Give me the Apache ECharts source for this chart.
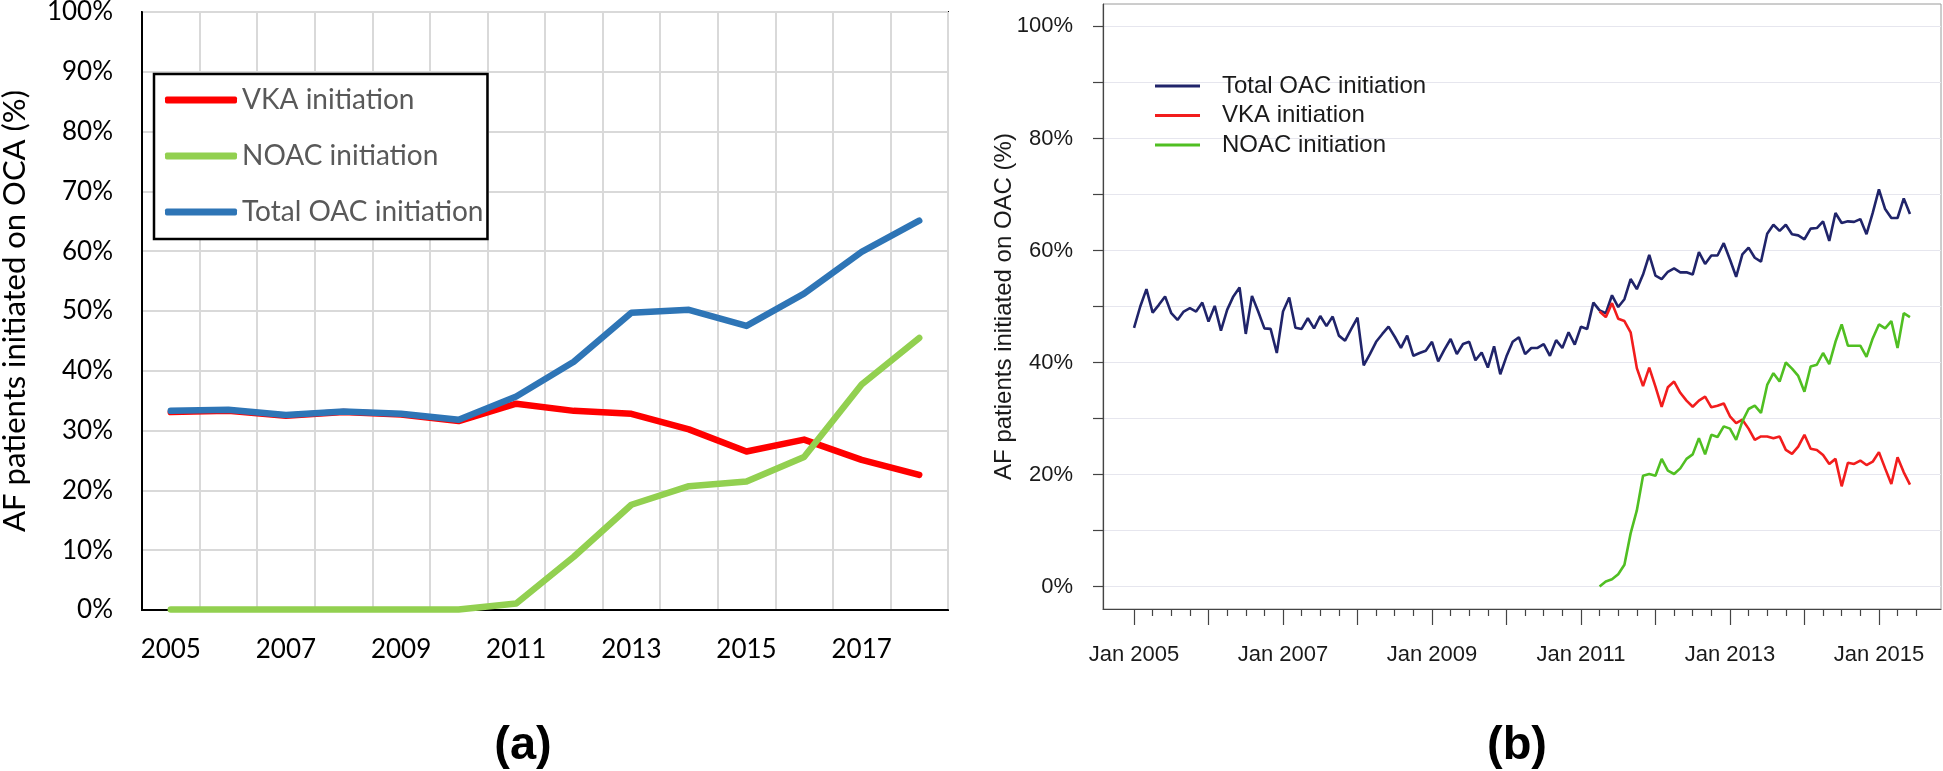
<!DOCTYPE html>
<html><head><meta charset="utf-8">
<script src="https://cdn.jsdelivr.net/npm/echarts@6/dist/echarts.min.js"></script>
<style>
html,body{margin:0;padding:0;background:#fff;}
#wrap{position:relative;width:1943px;height:771px;overflow:hidden;}
#a{position:absolute;left:0;top:0;width:960px;height:771px;}
#b{position:absolute;left:960px;top:0;width:983px;height:771px;}
</style>
</head><body><div id="wrap"><div id="a"></div><div id="b"></div></div>
<script>
// ---------- Panel (a): yearly ----------
const yearsA = ['2005','2006','2007','2008','2009','2010','2011','2012','2013','2014','2015','2016','2017','2018'];
const vkaA   = [33.1, 33.3, 32.5, 33.1, 32.7, 31.6, 34.5, 33.3, 32.8, 30.2, 26.5, 28.5, 25.1, 22.6];
const noacA  = [0.1, 0.1, 0.1, 0.1, 0.1, 0.1, 1.1, 8.9, 17.6, 20.7, 21.5, 25.6, 37.7, 45.5];
const totalA = [33.3, 33.5, 32.6, 33.2, 32.8, 31.8, 35.7, 41.5, 49.7, 50.2, 47.5, 52.9, 59.9, 65.1];

// ---------- Panel (b): monthly, month 0 = Jan 2005 ----------
const startYearB = 2005;
const totalB = [
 46.2, 50.0, 53.1, 48.9, 50.3, 51.8, 48.8, 47.6, 49.1, 49.7, 49.1, 50.7,
 47.3, 50.1, 45.7, 49.4, 51.8, 53.4, 45.1, 51.9, 49.1, 46.1, 46.0, 41.7,
 49.1, 51.6, 46.2, 46.0, 47.9, 46.1, 48.3, 46.5, 48.2, 44.8, 43.9, 46.0,
 48.0, 39.5, 41.5, 43.7, 45.1, 46.4, 44.6, 42.6, 44.8, 41.2, 41.7, 42.1,
 43.7, 40.2, 42.3, 44.2, 41.5, 43.3, 43.7, 40.4, 41.8, 39.1, 42.9, 37.9,
 41.1, 43.7, 44.5, 41.5, 42.6, 42.6, 43.3, 41.2, 44.0, 42.6, 45.4, 43.2,
 46.4, 46.0, 50.7, 49.3, 48.8, 52.0, 49.9, 51.3, 54.9, 53.1, 55.7, 59.2,
 55.5, 54.9, 56.2, 56.8, 56.1, 56.1, 55.7, 59.7, 57.6, 59.1, 59.1, 61.3,
 58.4, 55.3, 59.3, 60.5, 58.7, 58.0, 63.0, 64.6, 63.5, 64.6, 62.9, 62.7,
 62.0, 63.9, 64.0, 65.2, 61.7, 66.7, 64.9, 65.2, 65.1, 65.6, 62.9, 66.7,
 70.9, 67.4, 65.8, 65.8, 69.3, 66.5
];
const newDrugStartB = 75; // Apr 2011
const vkaBvals = [
 49.1, 48.1, 50.6, 47.8, 47.4, 45.4, 39.0, 35.8, 39.1,
 35.7, 32.1, 35.6, 36.6, 34.6, 33.2, 32.1, 33.2, 33.9, 32.0, 32.3, 32.7,
 30.4, 29.2, 29.8, 28.2, 26.2, 26.8, 26.8, 26.5, 26.8, 24.4, 23.7, 25.0,
 27.1, 24.6, 24.4, 23.5, 21.9, 22.8, 17.9, 22.1, 21.9, 22.5, 21.7, 22.3,
 24.0, 21.1, 18.3, 23.1, 20.4, 18.2
];
const noacBvals = [
 0.0, 0.9, 1.3, 2.2, 3.9, 9.5, 13.6, 19.8, 20.1,
 19.8, 22.8, 20.7, 20.1, 21.1, 22.8, 23.6, 26.5, 23.6, 27.1, 26.7, 28.6,
 28.2, 26.2, 29.5, 31.7, 32.3, 31.0, 36.0, 38.1, 36.6, 40.0, 38.9, 37.6,
 34.8, 39.3, 39.6, 41.7, 39.7, 43.7, 46.8, 43.0, 43.0, 43.0, 41.0, 44.3,
 46.8, 46.1, 47.4, 42.6, 48.8, 48.1
];
const xLabelMonthsB = [0, 24, 48, 72, 96, 120];
const xMajorTickMonthsB = [0,12,24,36,48,60,72,84,96,108,120];
const xMinorTickMonthsB = [3,6,9,15,18,21,27,30,33,39,42,45,51,54,57,63,66,69,75,78,81,87,90,93,99,102,105,111,114,117,123,126];
const yTicksB = [0,10,20,30,40,50,60,70,80,90,100];
const yLabelsB = [0,20,40,60,80,100];

// ---------- Chart A ----------
const fA = 'Lato, "Open Sans", sans-serif';
const chartA = echarts.init(document.getElementById('a'), null, {renderer:'canvas'});
chartA.setOption({
  animation:false,
  backgroundColor:'#fff',
  grid:{left:142, top:12, width:806, height:598, outerBoundsMode:'none', containLabel:false, show:true, borderColor:'#000', borderWidth:2, backgroundColor:'transparent'},
  legend:{
    orient:'vertical', left:154, top:74, padding:[11,4,12,11],
    backgroundColor:'#fff', borderColor:'#000', borderWidth:2.5,
    icon:'roundRect', itemWidth:72, itemHeight:7, itemGap:26,
    data:['VKA initiation','NOAC initiation','Total OAC initiation'],
    textStyle:{fontFamily:fA, fontSize:28, color:'#595959', lineHeight:30}
  },
  xAxis:{
    type:'category', data:yearsA, boundaryGap:true,
    axisLine:{show:true, lineStyle:{color:'#000', width:2}},
    axisTick:{show:false},
    axisLabel:{interval:1, margin:27, fontFamily:fA, fontSize:26, color:'#000'},
    splitLine:{show:true, interval:0, lineStyle:{color:'#d9d9d9', width:2}}
  },
  yAxis:{
    type:'value', min:0, max:100, interval:10,
    name:'AF patients initiated on OCA (%)', nameLocation:'middle', nameGap:112, nameMoveOverlap:false,
    nameTextStyle:{fontFamily:fA, fontSize:31, color:'#000'},
    axisLine:{show:true, lineStyle:{color:'#000', width:2}},
    axisTick:{show:false},
    axisLabel:{margin:29, fontFamily:fA, fontSize:26, color:'#000', formatter:v=>v+'%'},
    splitLine:{show:true, lineStyle:{color:'#d9d9d9', width:2}}
  },
  series:[
    {name:'VKA initiation', type:'line', data:vkaA, symbol:'none', lineStyle:{color:'#ff0000', width:6.5, cap:'round', join:'round'}, itemStyle:{color:'#ff0000'}},
    {name:'NOAC initiation', type:'line', data:noacA, symbol:'none', lineStyle:{color:'#92d050', width:6.5, cap:'round', join:'round'}, itemStyle:{color:'#92d050'}},
    {name:'Total OAC initiation', type:'line', data:totalA, symbol:'none', lineStyle:{color:'#2e75b6', width:6.5, cap:'round', join:'round'}, itemStyle:{color:'#2e75b6'}}
  ],
  graphic:[{type:'text', x:523, y:746, style:{text:'(a)', font:'bold 47px "Liberation Sans", Arial, sans-serif', fill:'#000', align:'center', verticalAlign:'middle'}}]
});

// ---------- Chart B ----------
const fB = '"Liberation Sans", Arial, Helvetica, sans-serif';
const pad = (vals) => Array(newDrugStartB).fill(null).concat(vals);
const vkaB = pad(vkaBvals);
const noacB = pad(noacBvals);
const toXY = arr => arr.map((v,i)=>[i, v]);
const chartB = echarts.init(document.getElementById('b'), null, {renderer:'canvas'});
chartB.setOption({
  animation:false,
  backgroundColor:'#fff',
  grid:{left:143, top:4, right:2, bottom:162, outerBoundsMode:'none', containLabel:false, show:true, borderColor:'#9a9a9a', borderWidth:1},
  legend:{
    orient:'vertical', left:195, top:72, padding:0,
    icon:'rect', itemWidth:45, itemHeight:3, itemGap:1.5,
    data:['Total OAC initiation','VKA initiation','NOAC initiation'],
    textStyle:{fontFamily:fB, fontSize:24, color:'#1a1a1a', lineHeight:28, padding:[0,0,0,17]}
  },
  xAxis:[{
    type:'value', min:-5, max:130,
    axisLine:{show:true, onZero:false, lineStyle:{color:'#444', width:1.2}},
    axisTick:{show:true, length:16, customValues:xMajorTickMonthsB, lineStyle:{color:'#444', width:1.2}},
    axisLabel:{margin:35, fontFamily:fB, fontSize:22, color:'#1a1a1a', customValues:xLabelMonthsB, formatter:v=>'Jan '+(startYearB + v/12)},
    splitLine:{show:false}
  },{
    type:'value', min:-5, max:130, position:'bottom',
    axisLine:{show:false, onZero:false},
    axisTick:{show:true, length:7, customValues:xMinorTickMonthsB, lineStyle:{color:'#444', width:1.2}},
    axisLabel:{show:false},
    splitLine:{show:false}
  }],
  yAxis:{
    type:'value', min:-4, max:104,
    name:'AF patients initiated on OAC (%)', nameLocation:'middle', nameGap:87, nameMoveOverlap:false,
    nameTextStyle:{fontFamily:fB, fontSize:24, color:'#1a1a1a'},
    axisLine:{show:true, onZero:false, lineStyle:{color:'#444', width:1.2}},
    axisTick:{show:true, length:10, customValues:yTicksB, lineStyle:{color:'#444', width:1.2}},
    axisLabel:{margin:30, fontFamily:fB, fontSize:22, color:'#1a1a1a', customValues:yLabelsB, formatter:v=>v+'%'},
    splitLine:{show:true, lineStyle:{color:'#e6e6ee', width:1.2}}
  },
  series:[
    {name:'Total OAC initiation', type:'line', data:toXY(totalB), symbol:'none', lineStyle:{color:'#20246a', width:2.6}, itemStyle:{color:'#20246a'}},
    {name:'VKA initiation', type:'line', data:toXY(vkaB), symbol:'none', lineStyle:{color:'#f21d1d', width:2.6}, itemStyle:{color:'#f21d1d'}},
    {name:'NOAC initiation', type:'line', data:toXY(noacB), symbol:'none', lineStyle:{color:'#50bf22', width:2.6}, itemStyle:{color:'#50bf22'}}
  ],
  graphic:[{type:'text', x:557, y:746, style:{text:'(b)', font:'bold 47px "Liberation Sans", Arial, sans-serif', fill:'#000', align:'center', verticalAlign:'middle'}}]
});
</script>
</body></html>
